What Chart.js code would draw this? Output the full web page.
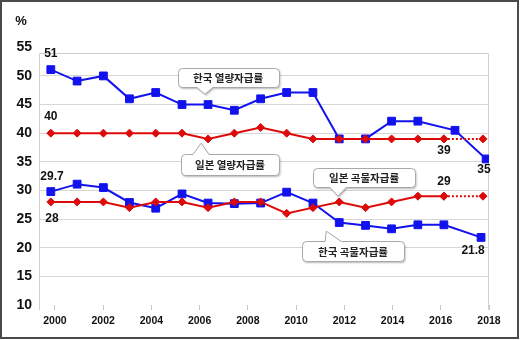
<!DOCTYPE html>
<html><head><meta charset="utf-8">
<script src="https://cdn.jsdelivr.net/npm/chart.js@4/dist/chart.umd.min.js"></script>
<style>html,body{margin:0;padding:0;background:#fff}#wrap{width:520px;height:340px;position:relative}</style>
</head><body><div id="wrap"><canvas id="c" width="520" height="340"></canvas></div>
<script>
// ---- data (x positions are years as read against the drawn axis) ----
const yTicks = [10, 15, 20, 25, 30, 35, 40, 45, 50, 55];
const xTicks = [2000, 2002, 2004, 2006, 2008, 2010, 2012, 2014, 2016, 2018];
const pointYears = [1999.83, 2000.92, 2002.01, 2003.09, 2004.18, 2005.27, 2006.35, 2007.44,
                    2008.53, 2009.61, 2010.70, 2011.79, 2012.88, 2013.96, 2015.05, 2016.13];

const koreaEnergyX = pointYears.slice(0, 15).concat([2016.59, 2017.88]);
const koreaEnergy  = [51.1, 49.1, 50.0, 46.0, 47.1, 45.0, 45.0, 44.0, 46.0, 47.1, 47.1, 39.0, 39.0, 42.1, 42.1, 40.5, 35.5];

const japanEnergyX = pointYears;
const japanEnergy  = [40, 40, 40, 40, 40, 40, 39, 40, 41, 40, 39, 39, 39, 39, 39, 39];
const japanEnergyProjX = [2016.13, 2017.75];
const japanEnergyProj  = [39, 39];

const koreaGrainX = pointYears.concat([2017.67]);
const koreaGrain  = [29.8, 31.1, 30.5, 27.9, 26.9, 29.4, 27.8, 27.7, 27.8, 29.7, 27.8, 24.4, 23.9, 23.3, 24.0, 24.0, 21.8];

const japanGrainX = pointYears;
const japanGrain  = [28, 28, 28, 27, 28, 28, 27, 28, 28, 26, 27, 28, 27, 28, 29, 29];
const japanGrainProjX = [2016.13, 2017.75];
const japanGrainProj  = [29, 29];

// value labels: text, x (year), y (value)
const valueLabels = [
  ['51', 1999.83, 53.8], ['40', 1999.83, 42.8], ['29.7', 1999.88, 32.4], ['28', 1999.88, 25.1],
  ['39', 2016.13, 37.0], ['35', 2017.79, 33.7], ['29', 2016.13, 31.6], ['21.8', 2017.34, 19.5]
];
// callouts: text, box centre (year, value), tail tip (year, value)
const callouts = [
  {text: '한국 열량자급률', x: 2007.18, y: 49.7, tipX: 2006.22, tipY: 46.8, w: 101, h: 19, base: 0},
  {text: '일본 열량자급률', x: 2007.26, y: 34.5, tipX: 2006.06, tipY: 38.25, w: 98, h: 21, base: 0},
  {text: '일본 곡물자급률', x: 2012.82, y: 32.3, tipX: 2011.74, tipY: 29.0, w: 102, h: 19, base: 0},
  {text: '한국 곡물자급률', x: 2012.36, y: 19.37, tipX: 2011.25, tipY: 22.9, w: 102, h: 20, base: 7}
];

const BLUE = '#1212ee', RED = '#dd0a0a';
const NUMFONT = '"Liberation Sans", Arial, sans-serif';
const KRFONT = '"Noto Sans CJK KR", "Noto Sans", sans-serif';

function pts(xs, ys) { return xs.map((x, i) => ({x: x, y: ys[i]})); }

function bubble(ctx, l, t, w, h, r, tipX, tipY, baseC, half) {
  const R = l + w, B = t + h;
  ctx.beginPath();
  ctx.moveTo(l + r, t);
  if (tipY < t) { ctx.lineTo(baseC - half, t); ctx.lineTo(tipX, tipY); ctx.lineTo(baseC + half, t); }
  ctx.lineTo(R - r, t); ctx.arcTo(R, t, R, t + r, r);
  ctx.lineTo(R, B - r); ctx.arcTo(R, B, R - r, B, r);
  if (tipY > B) { ctx.lineTo(baseC + half, B); ctx.lineTo(tipX, tipY); ctx.lineTo(baseC - half, B); }
  ctx.lineTo(l + r, B); ctx.arcTo(l, B, l, B - r, r);
  ctx.lineTo(l, t + r); ctx.arcTo(l, t, l + r, t, r);
  ctx.closePath();
}

const decor = {
  id: 'decor',
  beforeDatasetsDraw(chart) {
    const ctx = chart.ctx, a = chart.chartArea;
    ctx.save();
    ctx.strokeStyle = '#cfcfcf'; ctx.lineWidth = 1;
    ctx.beginPath();
    ctx.moveTo(a.left + 0.5, a.bottom + 5); ctx.lineTo(a.left + 0.5, a.top + 0.5);
    ctx.lineTo(a.right - 0.5, a.top + 0.5); ctx.lineTo(a.right - 0.5, a.bottom + 5);
    ctx.stroke();
    ctx.restore();
  },
  afterDatasetsDraw(chart) {
    const ctx = chart.ctx, xs = chart.scales.x, ys = chart.scales.y, a = chart.chartArea;
    ctx.save();
    // value labels
    ctx.fillStyle = '#111'; ctx.font = 'bold 12px ' + NUMFONT;
    ctx.textAlign = 'center'; ctx.textBaseline = 'middle';
    valueLabels.forEach(([t, x, y]) => ctx.fillText(t, xs.getPixelForValue(x), ys.getPixelForValue(y)));
    // callouts
    callouts.forEach(c => {
      const cx = xs.getPixelForValue(c.x), cy = ys.getPixelForValue(c.y);
      const tx = xs.getPixelForValue(c.tipX), ty = ys.getPixelForValue(c.tipY);
      const l = Math.round(cx - c.w / 2) + 0.5, t = Math.round(cy - c.h / 2) + 0.5;
      ctx.save();
      ctx.shadowColor = 'rgba(0,0,0,0.28)'; ctx.shadowBlur = 2; ctx.shadowOffsetX = 1; ctx.shadowOffsetY = 1.5;
      bubble(ctx, l, t, c.w, c.h, 4, tx, ty, tx + c.base, 8);
      ctx.fillStyle = '#fff'; ctx.fill();
      ctx.restore();
      bubble(ctx, l, t, c.w, c.h, 4, tx, ty, tx + c.base, 8);
      ctx.strokeStyle = '#a8a8a8'; ctx.lineWidth = 1; ctx.stroke();
      ctx.fillStyle = '#222'; ctx.font = 'bold 10.5px ' + KRFONT;
      ctx.textAlign = 'center'; ctx.textBaseline = 'middle';
      ctx.fillText(c.text, cx, cy + 0.5);
    });
    // unit label
    ctx.fillStyle = '#111'; ctx.font = 'bold 13px ' + NUMFONT;
    ctx.textAlign = 'center'; ctx.textBaseline = 'middle';
    ctx.fillText('%', ys.left + 21, a.top - 32);
    ctx.restore();
  },
  afterDraw(chart) {
    const ctx = chart.ctx;
    ctx.save();
    ctx.strokeStyle = '#4a4a4a'; ctx.lineWidth = 2;
    ctx.strokeRect(1, 1, 517, 337);
    ctx.restore();
  }
};

const common = {borderWidth: 2, tension: 0, pointBorderWidth: 1, fill: false};
new Chart(document.getElementById('c'), {
  type: 'line',
  data: {
    datasets: [
      Object.assign({label: '일본 열량자급률', data: pts(japanEnergyX, japanEnergy), borderColor: RED, backgroundColor: RED, pointStyle: 'rectRot', pointRadius: 4}, common),
      Object.assign({label: '일본 열량자급률 전망', data: pts(japanEnergyProjX, japanEnergyProj), borderColor: RED, backgroundColor: RED, borderDash: [2, 2], pointStyle: 'rectRot', pointRadius: 4}, common),
      Object.assign({label: '일본 곡물자급률', data: pts(japanGrainX, japanGrain), borderColor: RED, backgroundColor: RED, pointStyle: 'rectRot', pointRadius: 4}, common),
      Object.assign({label: '일본 곡물자급률 전망', data: pts(japanGrainProjX, japanGrainProj), borderColor: RED, backgroundColor: RED, borderDash: [2, 2], pointStyle: 'rectRot', pointRadius: 4}, common),
      Object.assign({label: '한국 열량자급률', data: pts(koreaEnergyX, koreaEnergy), borderColor: BLUE, backgroundColor: BLUE, pointStyle: 'rect', pointRadius: 5.5}, common),
      Object.assign({label: '한국 곡물자급률', data: pts(koreaGrainX, koreaGrain), borderColor: BLUE, backgroundColor: BLUE, pointStyle: 'rect', pointRadius: 5.5}, common)
    ]
  },
  options: {
    responsive: false, animation: false, devicePixelRatio: 1,
    layout: {padding: {top: 53, right: 31, bottom: 0, left: 0}},
    plugins: {legend: {display: false}, tooltip: {enabled: false}},
    scales: {
      x: {
        type: 'linear', min: 1999.34, max: 2018,
        afterBuildTicks: s => { s.ticks = xTicks.map(v => ({value: v})); },
        afterFit: s => { s.height = 35; },
        grid: {drawOnChartArea: false, drawTicks: true, tickLength: 5, color: '#c8c8c8'},
        border: {display: false},
        ticks: {padding: 5, autoSkip: false, maxRotation: 0, color: '#111',
                font: {family: NUMFONT, size: 10.5, weight: 'bold'}, callback: v => String(v)}
      },
      y: {
        min: 10, max: 54,
        afterBuildTicks: s => { s.ticks = yTicks.map(v => ({value: v})); },
        afterFit: s => { s.width = 39; },
        grid: {drawTicks: false, lineWidth: 1,
               color: c => (c.tick && (c.tick.value === 10 || c.tick.value === 55)) ? 'rgba(0,0,0,0)' : '#d6d6d6'},
        border: {display: false},
        ticks: {padding: 7, color: '#111', font: {family: NUMFONT, size: 14, weight: 'bold'}}
      }
    }
  },
  plugins: [decor]
});
</script></body></html>
